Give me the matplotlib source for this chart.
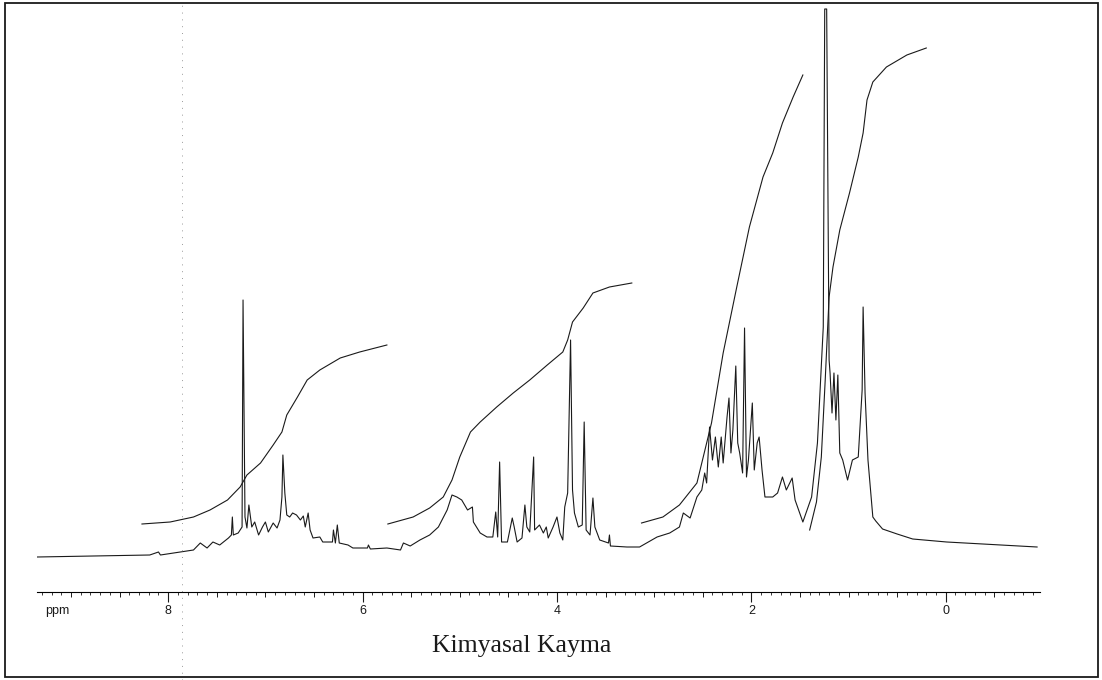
import matplotlib
matplotlib.use("Agg")
import matplotlib.pyplot as plt
from matplotlib.ticker import MultipleLocator, FixedLocator, FixedFormatter
from matplotlib.patches import Rectangle
from matplotlib.lines import Line2D

# 1H NMR trace (ppm, intensity above baseline)
spec_ppm = [9.35, 8.19, 8.10, 8.08, 7.74, 7.67, 7.60, 7.54, 7.47, 7.38, 7.35, 7.34, 7.33,
            7.28, 7.24, 7.23, 7.21, 7.19, 7.17, 7.14, 7.11, 7.07, 7.03, 7.00, 6.97, 6.92,
            6.88, 6.85, 6.83, 6.82, 6.80, 6.78, 6.75, 6.72, 6.68, 6.64, 6.61, 6.59, 6.56,
            6.54, 6.51, 6.44, 6.41, 6.31, 6.30, 6.28, 6.26, 6.24, 6.15, 6.10, 5.95, 5.94,
            5.92, 5.75, 5.61, 5.58, 5.51, 5.41, 5.31, 5.22, 5.13, 5.08, 5.03, 4.98, 4.92,
            4.87, 4.86, 4.79, 4.72, 4.66, 4.63, 4.61, 4.59, 4.57, 4.51, 4.46, 4.44, 4.41,
            4.36, 4.33, 4.31, 4.28, 4.24, 4.23, 4.18, 4.14, 4.11, 4.09, 4.04, 4.00, 3.97,
            3.94, 3.92, 3.89, 3.86, 3.84, 3.82, 3.78, 3.74, 3.72, 3.70, 3.66, 3.63, 3.61,
            3.56, 3.47, 3.46, 3.45, 3.28, 3.15, 2.97, 2.84, 2.74, 2.70, 2.63, 2.56, 2.51,
            2.48, 2.46, 2.43, 2.40, 2.37, 2.34, 2.31, 2.29, 2.25, 2.23, 2.21, 2.19, 2.16,
            2.14, 2.12, 2.09, 2.07, 2.05, 2.03, 1.99, 1.97, 1.94, 1.92, 1.89, 1.86, 1.78,
            1.73, 1.68, 1.64, 1.58, 1.55, 1.47, 1.38, 1.32, 1.26, 1.245, 1.225, 1.20, 1.19,
            1.17, 1.15, 1.13, 1.11, 1.09, 1.06, 1.01, 0.96, 0.90, 0.86, 0.85, 0.83, 0.80,
            0.75, 0.72, 0.65, 0.50, 0.34, -0.01, -0.94]
spec_int = [0, 2, 5, 2, 7, 14, 9, 15, 12, 19, 22, 40, 22,
            24, 30, 257, 40, 29, 52, 30, 35, 22, 30, 35, 25, 34,
            29, 37, 60, 102, 64, 42, 40, 44, 42, 37, 41, 30, 44,
            27, 19, 20, 15, 15, 27, 14, 32, 14, 12, 9, 9, 12,
            8, 9, 7, 14, 11, 17, 22, 30, 47, 62, 60, 57, 47,
            50, 35, 24, 20, 20, 45, 20, 95, 15, 15, 39, 30, 15,
            19, 52, 30, 25, 100, 27, 32, 24, 30, 19, 30, 40, 24,
            17, 50, 64, 217, 67, 44, 30, 32, 135, 27, 22, 59, 30,
            17, 14, 22, 11, 10, 10, 20, 24, 30, 44, 39, 60, 67,
            84, 74, 130, 97, 120, 90, 120, 94, 140, 159, 104, 127, 191,
            114, 104, 84, 229, 80, 97, 154, 87, 114, 120, 87, 60, 60,
            64, 80, 67, 79, 57, 35, 60, 114, 230, 548, 548, 197, 184,
            144, 184, 137, 182, 104, 97, 77, 97, 100, 167, 250, 164, 97,
            40, 36, 28, 23, 18, 15, 10]

# integral curves
int1_ppm = [8.27, 7.98, 7.74, 7.57, 7.39, 7.26, 7.19, 7.05, 6.92, 6.83, 6.78, 6.67, 6.57,
            6.44, 6.23, 6.03, 5.75]
int1_val = [33, 35, 40, 47, 57, 70, 82, 94, 112, 125, 142, 160, 177, 187, 199, 205, 212]

int2_ppm = [5.74, 5.48, 5.31, 5.17, 5.08, 5.00, 4.89, 4.79, 4.62, 4.45, 4.28, 4.10, 3.94,
            3.89, 3.84, 3.73, 3.63, 3.46, 3.23]
int2_val = [33, 40, 49, 60, 77, 100, 125, 135, 150, 164, 177, 192, 205, 217, 235, 249,
            264, 270, 274]

int3_ppm = [3.13, 2.91, 2.74, 2.56, 2.41, 2.29, 2.15, 2.02, 1.88, 1.78, 1.68, 1.57, 1.47]
int3_val = [34, 40, 52, 74, 134, 204, 270, 330, 380, 404, 434, 460, 482]

int4_ppm = [1.40, 1.33, 1.28, 1.24, 1.20, 1.16, 1.09, 0.99, 0.90, 0.85, 0.81, 0.75, 0.61,
            0.40, 0.20]
int4_val = [27, 55, 100, 177, 260, 290, 327, 364, 400, 424, 457, 475, 490, 502, 509]

major_ticks = [8, 6, 4, 2, 0]
major_labels = ["8", "6", "4", "2", "0"]

W, H = 1102, 680
fig = plt.figure(figsize=(W / 100, H / 100), dpi=100)
ax = fig.add_axes([37 / W, (H - 592) / H, 1003 / W, 590 / H])

ink = "#1a1a1a"
ax.plot(spec_ppm, spec_int, color=ink, lw=0.8)
for xs, ys in [(int1_ppm, int1_val), (int2_ppm, int2_val),
               (int3_ppm, int3_val), (int4_ppm, int4_val)]:
    ax.plot(xs, ys, color=ink, lw=0.8)

ax.set_xlim(9.35, -0.97)
ax.set_ylim(-35, 555)
for s in ["top", "left", "right"]:
    ax.spines[s].set_visible(False)
ax.spines["bottom"].set_linewidth(0.8)
ax.set_yticks([])

# ruler: 0.1 minor, 0.5 medium, long ticks with labels every 2 ppm
ax.xaxis.set_major_locator(MultipleLocator(0.5))
ax.xaxis.set_minor_locator(MultipleLocator(0.1))
ax.tick_params(axis="x", which="major", length=3.8, width=0.7, labelbottom=False,
               color=ink)
ax.tick_params(axis="x", which="minor", length=2.2, width=0.6, color=ink)

sec = ax.secondary_xaxis("bottom")
sec.spines["bottom"].set_visible(False)
sec.xaxis.set_major_locator(FixedLocator(major_ticks))
sec.xaxis.set_major_formatter(FixedFormatter(major_labels))
sec.xaxis.set_minor_locator(FixedLocator([]))
sec.tick_params(axis="x", length=7.5, width=0.8, pad=2.0, labelsize=9, color=ink,
                labelcolor=ink)
for t in sec.get_xticklabels():
    t.set_fontfamily("Liberation Sans")

fig.text(45 / W, 1 - 611 / H, "ppm", fontsize=9, family="Liberation Sans",
         ha="left", va="center", color=ink)
fig.text(522 / W, 1 - 652 / H, "Kimyasal Kayma", fontsize=18.5, family="Liberation Serif",
         ha="center", va="baseline", color=ink)

# faint dotted scan line and the outer frame
fig.add_artist(Line2D([182 / W, 182 / W], [0.0, 1 - 5 / H], transform=fig.transFigure,
                      color="#9a9a9a", lw=0.7, ls=(0, (1, 6))))
fig.add_artist(Rectangle((5 / W, 1 - 677 / H), 1093 / W, 674 / H,
                         transform=fig.transFigure, fill=False, ec=ink, lw=1.3))

fig.savefig("out.png", dpi=100)
